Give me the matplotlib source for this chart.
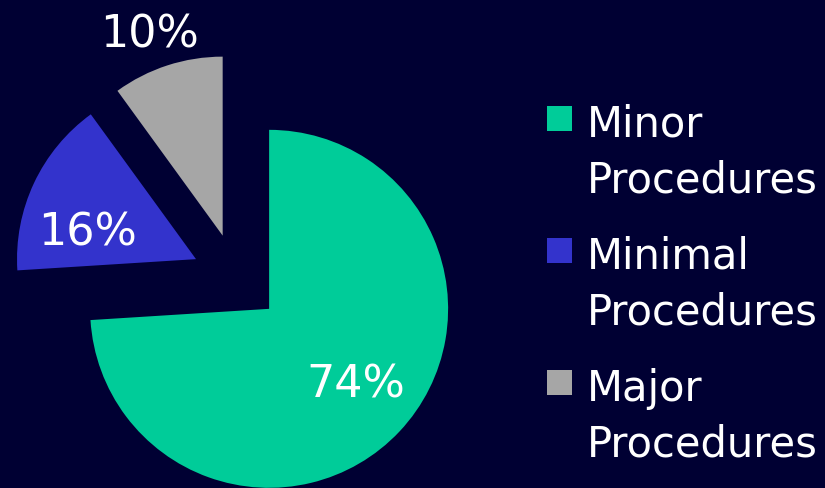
import numpy as np
import matplotlib.pyplot as plt
from matplotlib.patches import Rectangle

# Datos del grafico
categorias = ["Minor", "Minimal", "Major"]
porcentajes = [74, 16, 10]
colores = ["#00CC99", "#3333CC", "#A6A6A6"]
fondo = "#000033"

# Geometria (en pixeles de la figura)
radio = 179
centro = (236.5, 209.8)
separacion = 0.25 * radio
# distancia (fraccion del radio) y giro en grados de cada etiqueta
pos_etiquetas = [(0.692, -2.1), (0.611, 17.3), (1.133, 3.0)]

fig = plt.figure(figsize=(8.25, 4.89), dpi=100, facecolor=fondo)
ax = fig.add_axes([0, 0, 1, 1])
ax.set_facecolor(fondo)

wedges, textos, pcts = ax.pie(porcentajes, colors=colores, startangle=90,
                              counterclock=False, radius=radio, center=centro,
                              explode=[separacion] * len(porcentajes),
                              autopct='%.0f%%',
                              wedgeprops=dict(linewidth=0),
                              textprops=dict(color="white", fontsize=32))

# Recolocar los porcentajes
for w, t, (d, giro) in zip(wedges, pcts, pos_etiquetas):
    ang = np.deg2rad((w.theta1 + w.theta2) / 2 + giro)
    cx, cy = w.center
    t.set_position((cx + d * w.r * np.cos(ang), cy + d * w.r * np.sin(ang)))
    t.set_ha("center")
    t.set_va("baseline")

ax.set_xlim(0, 825)
ax.set_ylim(0, 489)
ax.set_aspect("equal")
ax.axis("off")

# Leyenda a mano
y0 = 489 - 137
paso = 132
for i, (nombre, col) in enumerate(zip(categorias, colores)):
    yb = y0 - i * paso
    ax.add_patch(Rectangle((547, yb + 5), 25, 25, color=col, lw=0))
    ax.text(587, yb, nombre, color="white", fontsize=30, va="baseline")
    ax.text(587, yb - 56, "Procedures", color="white", fontsize=30,
            va="baseline")

fig.savefig("out.png", dpi=100, facecolor=fondo)
